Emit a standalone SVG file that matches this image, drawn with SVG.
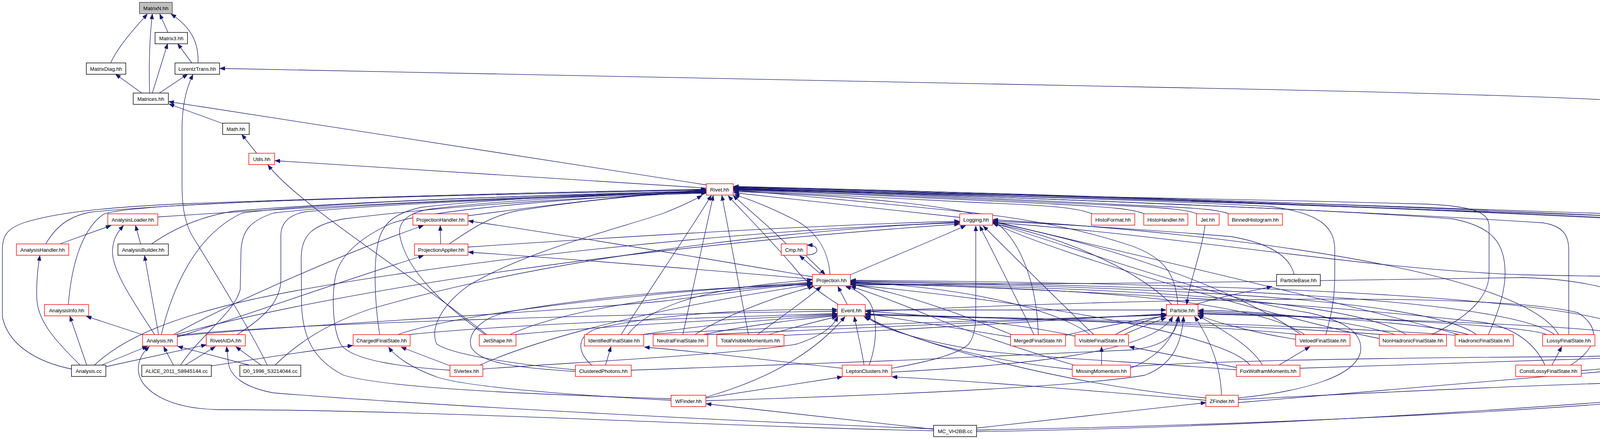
<svg xmlns="http://www.w3.org/2000/svg" width="4832" height="1123" viewBox="0 0 4832 1123">
<defs>
<marker id="ah" markerWidth="14" markerHeight="10" refX="13" refY="5" orient="auto" markerUnits="userSpaceOnUse"><path d="M0,0 L13,5 L0,10 z" fill="#191970" stroke="#191970" stroke-width="1"/></marker>
<style>
#edges path{fill:none;stroke:#191970;stroke-width:1.3;marker-end:url(#ah)}
.nd rect{fill:#ffffff;stroke:#000000;stroke-width:1.4}
.nd.red rect{stroke:#ff0000}
.nd.root rect{fill:#bfbfbf;stroke:#404040}
.nd text{font-family:'Liberation Sans',Arial,Helvetica,sans-serif;font-size:13.3px;text-anchor:middle;fill:#000000}
</style>
</defs>
<rect x="0" y="0" width="4832" height="1123" fill="#ffffff"/>
<g id="edges">
<path d="M283,161 C305,115 345,72 377,36"/>
<path d="M383,238 C381,170 383,95 390,36"/>
<path d="M430,83 L409,36"/>
<path d="M507,161 C509,110 490,70 438,36"/>
<path d="M390,238 L429,112"/>
<path d="M491,161 L455,112"/>
<path d="M363,238 L296,190"/>
<path d="M408,238 L480,190"/>
<path d="M570,316 L433,266"/>
<path d="M1808,473 L432,260"/>
<path d="M657,392 L619,344"/>
<path d="M1808,481 L704,411"/>
<path d="M1246,856 C1050,700 760,520 686,422"/>
<path d="M684,934 C650,860 540,680 490,600 C470,560 466,520 466,470 L466,330 C466,260 482,215 494,191"/>
<path d="M2500,1104 C3300,1092 4200,1030 4727,972 C4680,966 4629,962 4629,940 L4629,335 C4629,305 4560,290 4390,270 C4000,245 3500,234 3000,224 C2000,205 1000,182 563,175"/>
<path d="M153,624 L284,577"/>
<path d="M360,624 L347,577"/>
<path d="M396,856 C340,770 285,690 288,640 C290,610 300,595 316,577"/>
<path d="M406,856 L370,654"/>
<path d="M367,857 L221,809"/>
<path d="M222,934 L179,809"/>
<path d="M205,934 C140,870 95,820 94,760 C93,710 98,680 102,654"/>
<path d="M260,934 L377,886"/>
<path d="M271,938 L528,882"/>
<path d="M183,944 C90,925 20,880 6,810 L6,640 C6,600 20,585 60,570 C140,545 250,532 450,522 C900,505 1400,492 1808,484"/>
<path d="M242,934 C320,860 450,810 650,765 C1000,690 1800,590 2456,570"/>
<path d="M117,624 C140,585 170,555 230,543 C500,515 1200,495 1808,485"/>
<path d="M175,779 C182,690 205,590 265,548 C330,520 900,505 1808,486"/>
<path d="M404,555 C800,528 1400,500 1808,488"/>
<path d="M388,624 C430,595 500,555 600,540 C900,515 1400,498 1808,489"/>
<path d="M413,856 C440,740 500,600 620,545 C800,520 1300,500 1808,490"/>
<path d="M452,858 C700,830 1500,805 2143,796"/>
<path d="M454,860 C650,838 1400,800 1700,770 C1900,745 2000,730 2079,726"/>
<path d="M444,856 C600,770 900,640 1084,577"/>
<path d="M454,862 C650,800 900,710 1084,654"/>
<path d="M450,856 C800,760 1500,640 2456,573"/>
<path d="M607,856 C680,810 716,770 719,720 L719,600 C720,570 740,550 780,542 C1000,520 1500,500 1808,493"/>
<path d="M444,934 L419,887"/>
<path d="M474,934 L551,887"/>
<path d="M541,936 C650,920 800,895 903,884"/>
<path d="M462,934 C520,850 600,800 615,740 L617,640 C620,590 640,565 700,545 C900,520 1500,500 1808,492"/>
<path d="M638,934 L455,886"/>
<path d="M668,934 L604,887"/>
<path d="M704,934 C760,880 830,830 950,790 C1400,660 2000,590 2456,568"/>
<path d="M1198,552 C1400,525 1650,495 1807,486"/>
<path d="M1128,624 L1127,577"/>
<path d="M1150,624 C1200,590 1250,555 1320,540 C1500,510 1700,495 1807,487"/>
<path d="M1198,632 C1600,605 2100,575 2456,566"/>
<path d="M2080,708 C1800,660 1500,610 1199,565"/>
<path d="M2080,714 C1800,690 1500,665 1199,645"/>
<path d="M972,856 C960,780 955,680 968,620 C980,570 1010,545 1080,530 C1300,505 1600,495 1808,490"/>
<path d="M1018,856 C1150,810 1500,760 2079,722"/>
<path d="M1045,856 C1300,830 1800,812 2143,802"/>
<path d="M1242,856 C1150,790 1040,700 1023,600 C1020,570 1040,545 1100,535 C1300,510 1600,497 1808,491"/>
<path d="M1305,856 C1400,812 1600,760 2079,724"/>
<path d="M1318,856 C1600,830 1900,815 2143,804"/>
<path d="M1590,856 C1650,760 1760,600 1821,500"/>
<path d="M1607,856 C1650,800 1750,740 2079,716"/>
<path d="M1645,856 C1800,830 2000,815 2143,806"/>
<path d="M1640,856 C2000,835 2700,815 2985,806"/>
<path d="M1748,856 L1826,500"/>
<path d="M1779,856 C1850,810 1980,760 2082,733"/>
<path d="M1800,856 C1900,835 2050,815 2143,808"/>
<path d="M1808,856 C2300,835 2700,815 2985,804"/>
<path d="M1916,856 L1848,500"/>
<path d="M1939,856 C2000,810 2060,770 2102,733"/>
<path d="M1967,856 C2040,835 2100,820 2143,810"/>
<path d="M2005,858 C2400,840 2700,818 2985,803"/>
<path d="M1153,936 L1027,888"/>
<path d="M1152,947 C1050,940 900,925 872,880 C850,840 848,740 862,695 C880,640 940,600 1000,572 C1100,535 1500,505 1808,490"/>
<path d="M1236,944 C1500,925 1900,905 2040,880 C2100,860 2130,840 2145,810"/>
<path d="M1228,934 C1350,880 1600,800 2079,728"/>
<path d="M1550,934 L1564,887"/>
<path d="M1473,946 C1350,935 1160,910 1118,880 C1100,840 1130,780 1200,730 C1350,640 1600,580 1700,545 C1750,525 1780,510 1797,500"/>
<path d="M1515,934 C1480,905 1470,860 1530,840 C1700,800 1950,790 2143,792"/>
<path d="M1616,947 C2000,935 2500,915 2900,895 C2980,885 3010,860 3018,810"/>
<path d="M1473,950 C1300,940 1230,925 1207,890 C1195,860 1220,820 1290,800 C1500,760 1800,735 2079,728"/>
<path d="M2156,942 C1950,920 1800,900 1650,888"/>
<path d="M2212,934 C2205,890 2195,850 2187,810"/>
<path d="M2225,934 C2245,880 2250,800 2220,765 C2200,745 2180,738 2165,733"/>
<path d="M2283,942 C2350,930 2450,910 2480,880 C2495,860 2498,830 2498,800 L2498,578"/>
<path d="M2283,952 C2600,935 2950,905 3002,810"/>
<path d="M1718,1024 C1450,1010 1200,990 1120,965 C1050,940 1010,910 995,888"/>
<path d="M1807,1018 L2156,964"/>
<path d="M1807,1016 C1950,975 2080,910 2163,810"/>
<path d="M1807,1025 C2300,1010 2750,990 2930,960 C3000,935 3025,880 3030,810"/>
<path d="M1718,1020 C1400,1010 1000,995 880,960 C800,920 775,860 772,780 L771,660 C772,600 800,575 880,560 C1200,520 1600,500 1808,494"/>
<path d="M2820,934 L2820,887"/>
<path d="M2894,942 C2960,915 3005,870 3016,810"/>
<path d="M2745,945 C2500,920 2300,860 2216,808"/>
<path d="M2750,934 C2650,905 2480,850 2385,810 C2300,775 2220,745 2178,733"/>
<path d="M2894,938 C3100,922 3600,915 4050,912 C4300,908 4376,880 4376,840 L4376,620 C4376,585 4350,572 4300,568 C3700,535 2600,495 1878,479"/>
<path d="M3165,940 L2891,887"/>
<path d="M3274,934 L3353,887"/>
<path d="M3232,934 C3200,880 3120,840 3066,806"/>
<path d="M3200,934 C3150,870 2800,790 2178,728"/>
<path d="M3165,946 C2900,925 2650,915 2500,895 C2350,870 2250,840 2216,808"/>
<path d="M3328,942 C3700,930 3900,922 4000,920 C4200,915 4325,900 4325,860 L4325,600 C4325,570 4300,555 4250,551 C3600,525 2600,495 1878,480"/>
<path d="M3973,934 L3998,887"/>
<path d="M3955,934 C3930,880 3880,840 3800,825 C3300,770 2700,740 2178,723"/>
<path d="M4021,934 C4090,890 4100,840 4040,800 C3800,740 2800,770 2216,797"/>
<path d="M4048,948 C4200,935 4350,925 4420,900 C4460,880 4476,850 4476,800 L4476,620 C4476,590 4450,572 4400,565 C3800,535 2700,495 1878,478"/>
<path d="M3127,1011 C3125,940 3100,870 3058,810"/>
<path d="M3087,1024 C2800,1000 2500,975 2284,964"/>
<path d="M3087,1018 C2700,980 2350,880 2212,810"/>
<path d="M3170,1022 C3600,1000 4000,982 4300,975 C4480,970 4527,940 4527,880 L4527,620 C4527,590 4500,578 4440,572 C3800,540 2700,495 1878,477"/>
<path d="M3170,1030 C3500,1000 3900,968 4393,926 C4330,880 4260,810 4212,780 C4150,740 4050,715 3900,710 C3400,720 2700,728 2178,729"/>
<path d="M3170,1018 C3350,1000 3470,960 3483,900 C3490,850 3440,820 3350,800 C3100,760 2800,650 2542,570"/>
<path d="M2500,1095 L3087,1030"/>
<path d="M2390,1098 L1808,1033"/>
<path d="M2390,1102 C1800,1090 1100,1048 560,1048 C460,1046 400,1020 370,985 C345,955 350,915 382,887"/>
<path d="M2390,1097 C1800,1075 1000,1030 700,1005 C620,990 590,960 585,930 L580,887"/>
<path d="M2500,1100 C3200,1088 4000,1050 4300,1015 C4500,995 4578,970 4578,930 L4578,850 C4578,780 4560,745 4500,728 C4300,705 4100,708 3900,703 C3500,690 3000,600 2542,569"/>
<path d="M2800,856 C2700,760 2600,660 2517,578"/>
<path d="M2855,856 C2900,830 2950,815 2985,806"/>
<path d="M2878,856 C2920,836 2960,822 2985,813"/>
<path d="M2790,856 C2720,800 2500,735 2178,722"/>
<path d="M2752,860 C2600,825 2350,805 2216,796"/>
<path d="M2647,856 C2600,760 2550,660 2508,578"/>
<path d="M2658,856 C2655,740 2620,620 2545,565 C2450,520 2100,497 1878,490"/>
<path d="M2727,858 C2800,840 2900,820 2985,808"/>
<path d="M2587,862 C2450,840 2300,815 2216,802"/>
<path d="M2590,856 C2450,800 2300,745 2178,728"/>
<path d="M3394,856 C3410,800 3417,760 3417,700 L3417,640 C3417,580 3380,545 3250,528 C2800,505 2200,492 1878,485"/>
<path d="M3317,868 C3200,850 3100,820 3068,806"/>
<path d="M3330,856 C3200,760 2900,640 2542,568"/>
<path d="M3340,856 C3200,760 2700,735 2178,726"/>
<path d="M3325,856 C3100,830 2500,810 2216,803"/>
<path d="M3665,856 C3760,810 3812,760 3812,700 L3812,580 C3812,545 3780,528 3650,522 C3000,505 2300,490 1878,484"/>
<path d="M3572,856 C3450,820 3250,795 3068,794"/>
<path d="M3531,866 C3300,820 2700,650 2542,570"/>
<path d="M3600,856 C3450,760 2800,735 2178,724"/>
<path d="M3540,856 C3200,830 2500,812 2216,805"/>
<path d="M3810,856 C3840,790 3853,740 3853,700 C3853,620 3820,580 3720,560 C3400,535 2500,500 1878,483"/>
<path d="M3760,856 C3650,825 3300,805 3068,797"/>
<path d="M3735,856 C3500,790 2900,650 2542,566"/>
<path d="M3780,856 C3650,760 2900,733 2178,721"/>
<path d="M3735,858 C3300,828 2600,812 2216,806"/>
<path d="M4016,856 L4016,640 C4016,600 4000,578 3950,570 C3500,540 2500,500 1878,482"/>
<path d="M3960,856 C3900,830 3400,810 3068,801"/>
<path d="M3990,856 C3900,700 3200,600 2542,562"/>
<path d="M3980,856 C3850,760 3000,730 2178,719"/>
<path d="M4221,856 L4221,630 C4220,590 4200,560 4150,553 C3600,530 2600,500 1878,481"/>
<path d="M4170,856 C4050,830 3400,812 3068,803"/>
<path d="M4200,856 C4100,760 3200,725 2178,717"/>
<path d="M3015,779 C3010,700 2980,660 2900,630 C2750,580 2600,555 2450,540 C2200,515 2000,495 1878,487"/>
<path d="M3060,779 C3120,760 3200,745 3256,733"/>
<path d="M3000,779 C2900,680 2700,600 2542,572"/>
<path d="M2215,793 L2985,793"/>
<path d="M3085,576 C3075,650 3045,720 3038,779"/>
<path d="M3313,702 C3300,650 3240,620 3150,605 C2900,585 2700,572 2542,566"/>
<path d="M2169,779 L2145,733"/>
<path d="M2146,779 C2100,750 2060,720 2030,680 C1960,600 1900,540 1864,501"/>
<path d="M2125,702 C2120,640 2090,590 2030,560 C1970,530 1920,510 1880,498"/>
<path d="M2102,702 L2047,654"/>
<path d="M2177,703 C2300,650 2400,610 2472,577"/>
<path d="M2062,653 L2112,702"/>
<path d="M2066,652 C2085,652 2093,645 2091,638 C2089,630 2080,627 2067,627"/>
<path d="M2013,624 C1970,580 1920,540 1877,500"/>
<path d="M2457,556 L1879,493"/>
<path d="M2796,547 C2760,532 2700,526 2500,518 C2300,508 2000,492 1878,486"/>
<path d="M2930,547 C2900,535 2850,530 2700,522 C2400,508 2050,490 1878,485"/>
<path d="M3065,547 C3040,537 3000,532 2850,525 C2500,510 2100,490 1878,484"/>
<path d="M3146,547 C3120,537 3080,533 2950,527 C2600,510 2100,488 1878,483"/>
</g>
<g id="n-MatrixN" class="nd root"><rect x="357" y="6" width="84" height="29"/><text x="399" y="25.5">MatrixN.hh</text></g>
<g id="n-Matrix3" class="nd"><rect x="397" y="83" width="83" height="29"/><text x="438.5" y="102.5">Matrix3.hh</text></g>
<g id="n-MatrixDiag" class="nd"><rect x="221" y="161" width="101" height="29"/><text x="271.5" y="180.5">MatrixDiag.hh</text></g>
<g id="n-LorentzTrans" class="nd"><rect x="448" y="161" width="114" height="29"/><text x="505" y="180.5">LorentzTrans.hh</text></g>
<g id="n-Matrices" class="nd"><rect x="341" y="238" width="90" height="29"/><text x="386" y="257.5">Matrices.hh</text></g>
<g id="n-Math" class="nd"><rect x="570" y="315" width="68" height="29"/><text x="604" y="334.5">Math.hh</text></g>
<g id="n-Utils" class="nd red"><rect x="637" y="392" width="66" height="29"/><text x="670" y="411.5">Utils.hh</text></g>
<g id="n-Rivet" class="nd red"><rect x="1808" y="470" width="69" height="29"/><text x="1842.5" y="489.5">Rivet.hh</text></g>
<g id="n-AnalysisLoader" class="nd red"><rect x="276" y="547" width="128" height="29"/><text x="340" y="566.5">AnalysisLoader.hh</text></g>
<g id="n-ProjectionHandler" class="nd red"><rect x="1057" y="547" width="141" height="29"/><text x="1127.5" y="566.5">ProjectionHandler.hh</text></g>
<g id="n-Logging" class="nd red"><rect x="2457" y="547" width="84" height="29"/><text x="2499" y="566.5">Logging.hh</text></g>
<g id="n-HistoFormat" class="nd red"><rect x="2794" y="547" width="111" height="29"/><text x="2849.5" y="566.5">HistoFormat.hh</text></g>
<g id="n-HistoHandler" class="nd red"><rect x="2928" y="547" width="113" height="29"/><text x="2984.5" y="566.5">HistoHandler.hh</text></g>
<g id="n-Jet" class="nd red"><rect x="3063" y="547" width="58" height="29"/><text x="3092" y="566.5">Jet.hh</text></g>
<g id="n-BinnedHistogram" class="nd red"><rect x="3144" y="547" width="139" height="29"/><text x="3213.5" y="566.5">BinnedHistogram.hh</text></g>
<g id="n-AnalysisHandler" class="nd red"><rect x="42" y="624" width="134" height="29"/><text x="109" y="643.5">AnalysisHandler.hh</text></g>
<g id="n-AnalysisBuilder" class="nd"><rect x="302" y="624" width="129" height="29"/><text x="366.5" y="643.5">AnalysisBuilder.hh</text></g>
<g id="n-ProjectionApplier" class="nd red"><rect x="1061" y="624" width="137" height="29"/><text x="1129.5" y="643.5">ProjectionApplier.hh</text></g>
<g id="n-Cmp" class="nd red"><rect x="2000" y="624" width="66" height="29"/><text x="2033" y="643.5">Cmp.hh</text></g>
<g id="n-Projection" class="nd red"><rect x="2080" y="702" width="97" height="29"/><text x="2128.5" y="721.5">Projection.hh</text></g>
<g id="n-ParticleBase" class="nd"><rect x="3268" y="702" width="112" height="29"/><text x="3324" y="721.5">ParticleBase.hh</text></g>
<g id="n-AnalysisInfo" class="nd red"><rect x="114" y="779" width="113" height="29"/><text x="170.5" y="798.5">AnalysisInfo.hh</text></g>
<g id="n-Event" class="nd red"><rect x="2144" y="779" width="71" height="29"/><text x="2179.5" y="798.5">Event.hh</text></g>
<g id="n-Particle" class="nd red"><rect x="2986" y="779" width="81" height="29"/><text x="3026.5" y="798.5">Particle.hh</text></g>
<g id="n-Analysis" class="nd red"><rect x="365" y="856" width="89" height="29"/><text x="409.5" y="875.5">Analysis.hh</text></g>
<g id="n-RivetAIDA" class="nd red"><rect x="528" y="856" width="100" height="29"/><text x="578" y="875.5">RivetAIDA.hh</text></g>
<g id="n-ChargedFinalState" class="nd red"><rect x="904" y="856" width="146" height="29"/><text x="977" y="875.5">ChargedFinalState.hh</text></g>
<g id="n-JetShape" class="nd red"><rect x="1227" y="856" width="94" height="29"/><text x="1274" y="875.5">JetShape.hh</text></g>
<g id="n-IdentifiedFinalState" class="nd red"><rect x="1496" y="856" width="152" height="29"/><text x="1572" y="875.5">IdentifiedFinalState.hh</text></g>
<g id="n-NeutralFinalState" class="nd red"><rect x="1672" y="856" width="140" height="29"/><text x="1742" y="875.5">NeutralFinalState.hh</text></g>
<g id="n-TotalVisibleMomentum" class="nd red"><rect x="1835" y="856" width="172" height="29"/><text x="1921" y="875.5">TotalVisibleMomentum.hh</text></g>
<g id="n-MergedFinalState" class="nd red"><rect x="2587" y="856" width="141" height="29"/><text x="2657.5" y="875.5">MergedFinalState.hh</text></g>
<g id="n-VisibleFinalState" class="nd red"><rect x="2752" y="856" width="137" height="29"/><text x="2820.5" y="875.5">VisibleFinalState.hh</text></g>
<g id="n-VetoedFinalState" class="nd red"><rect x="3317" y="856" width="139" height="29"/><text x="3386.5" y="875.5">VetoedFinalState.hh</text></g>
<g id="n-NonHadronicFinalState" class="nd red"><rect x="3531" y="856" width="172" height="29"/><text x="3617" y="875.5">NonHadronicFinalState.hh</text></g>
<g id="n-HadronicFinalState" class="nd red"><rect x="3725" y="856" width="149" height="29"/><text x="3799.5" y="875.5">HadronicFinalState.hh</text></g>
<g id="n-LossyFinalState" class="nd red"><rect x="3949" y="856" width="134" height="29"/><text x="4016" y="875.5">LossyFinalState.hh</text></g>
<g id="n-BeamConstraint" class="nd red"><rect x="4158" y="856" width="131" height="29"/><text x="4223.5" y="875.5">BeamConstraint.hh</text></g>
<g id="n-Analysis-cc" class="nd"><rect x="183" y="934" width="88" height="29"/><text x="227" y="953.5">Analysis.cc</text></g>
<g id="n-ALICE" class="nd"><rect x="363" y="934" width="178" height="29"/><text x="452" y="953.5">ALICE_2011_S8945144.cc</text></g>
<g id="n-D0" class="nd"><rect x="614" y="934" width="156" height="29"/><text x="692" y="953.5">D0_1996_S3214044.cc</text></g>
<g id="n-SVertex" class="nd red"><rect x="1152" y="934" width="84" height="29"/><text x="1194" y="953.5">SVertex.hh</text></g>
<g id="n-ClusteredPhotons" class="nd red"><rect x="1473" y="934" width="143" height="29"/><text x="1544.5" y="953.5">ClusteredPhotons.hh</text></g>
<g id="n-LeptonClusters" class="nd red"><rect x="2156" y="934" width="127" height="29"/><text x="2219.5" y="953.5">LeptonClusters.hh</text></g>
<g id="n-MissingMomentum" class="nd red"><rect x="2745" y="934" width="149" height="29"/><text x="2819.5" y="953.5">MissingMomentum.hh</text></g>
<g id="n-FoxWolframMoments" class="nd red"><rect x="3165" y="934" width="163" height="29"/><text x="3246.5" y="953.5">FoxWolframMoments.hh</text></g>
<g id="n-ConstLossyFinalState" class="nd red"><rect x="3880" y="934" width="168" height="29"/><text x="3964" y="953.5">ConstLossyFinalState.hh</text></g>
<g id="n-WFinder" class="nd red"><rect x="1718" y="1011" width="89" height="29"/><text x="1762.5" y="1030.5">WFinder.hh</text></g>
<g id="n-ZFinder" class="nd red"><rect x="3087" y="1011" width="83" height="29"/><text x="3128.5" y="1030.5">ZFinder.hh</text></g>
<g id="n-MC_VH2BB" class="nd"><rect x="2390" y="1088" width="110" height="29"/><text x="2445" y="1107.5">MC_VH2BB.cc</text></g>
</svg>
